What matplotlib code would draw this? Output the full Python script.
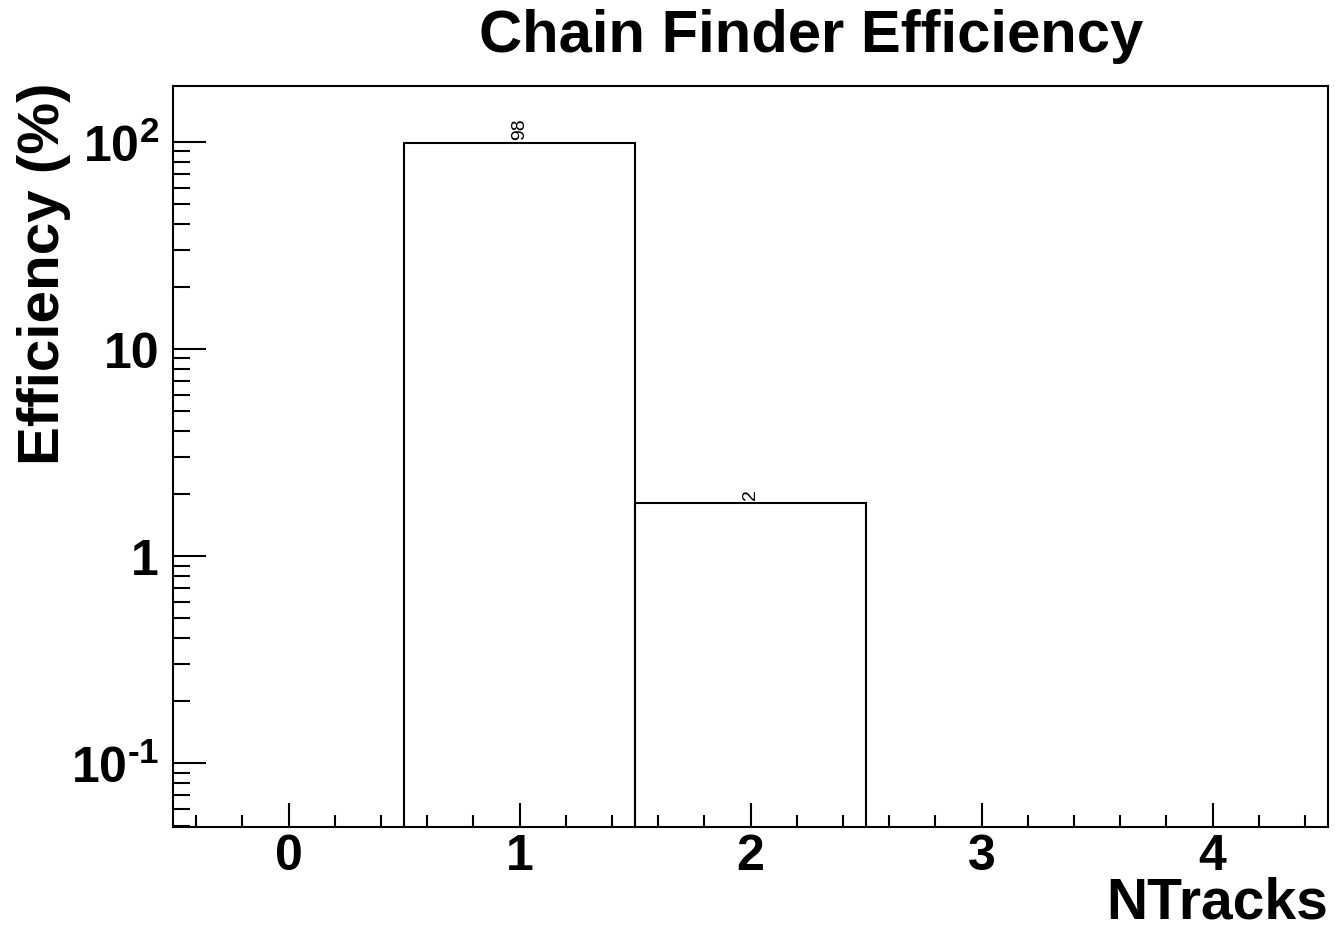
import matplotlib
matplotlib.use('Agg')
from matplotlib import pyplot as plt
from matplotlib.ticker import FixedLocator, LogLocator, MultipleLocator, NullFormatter
import numpy as np

# Efficiency per number of found tracks
ntracks = [0, 1, 2, 3, 4]
efficiency = [0.0, 98.2, 1.8, 0.0, 0.0]

y_ticks = [0.1, 1, 10, 100]
y_tick_labels = [r'$10^{\text{-}1}$', '1', '10', '$10^{2}$']

plt.rcParams['font.family'] = ['Liberation Sans', 'DejaVu Sans']
plt.rcParams['font.weight'] = 'bold'
plt.rcParams['axes.unicode_minus'] = False
plt.rcParams['mathtext.fontset'] = 'custom'
plt.rcParams['mathtext.rm'] = 'Liberation Sans:bold'
plt.rcParams['mathtext.default'] = 'rm'

fig = plt.figure(figsize=(13.35, 9.29), dpi=100)
ax = fig.add_axes([173 / 1335, 1 - 828 / 929, (1328 - 173) / 1335, (828 - 87) / 929])

# histogram outline, no fill
ax.bar(ntracks, efficiency, width=1.0, fill=False, edgecolor='black', linewidth=1.5)

# bin contents written above each filled bin
for x, v in zip(ntracks, efficiency):
    if v > 0:
        ax.annotate('%.0f' % v, (x, v), xytext=(0, 3), textcoords='offset points',
                    rotation=90, ha='center', va='bottom', fontsize=14, fontweight='normal')

ax.set_yscale('log')
ax.set_xlim(-0.5, 4.5)
ax.set_ylim(0.0492, 186)

ax.xaxis.set_major_locator(MultipleLocator(1))
ax.xaxis.set_minor_locator(MultipleLocator(0.2))
ax.yaxis.set_major_locator(FixedLocator(y_ticks))
ax.set_yticklabels(y_tick_labels)
ax.yaxis.set_minor_locator(LogLocator(base=10, subs=np.arange(2, 10)))
ax.yaxis.set_minor_formatter(NullFormatter())

ax.tick_params(axis='both', which='both', direction='in', width=1.5, top=False, right=False)
ax.tick_params(axis='x', which='major', length=17, labelsize=36, pad=4)
ax.tick_params(axis='x', which='minor', length=9)
ax.tick_params(axis='y', which='major', length=24, labelsize=36, pad=10)
ax.tick_params(axis='y', which='minor', length=12)

for s in ax.spines.values():
    s.set_linewidth(1.5)

ax.set_xlabel('NTracks', fontsize=41, fontweight='bold', ha='right', va='baseline')
ax.xaxis.set_label_coords(1.0, -0.1215)
ax.set_ylabel('Efficiency (%)', fontsize=42, fontweight='bold', ha='right', va='center')
ax.yaxis.set_label_coords(-0.112, 1.006)

fig.text(811 / 1335, 1 - 37 / 929, 'Chain Finder Efficiency', fontsize=43,
         ha='center', va='center')

fig.savefig('out.png', dpi=100)
